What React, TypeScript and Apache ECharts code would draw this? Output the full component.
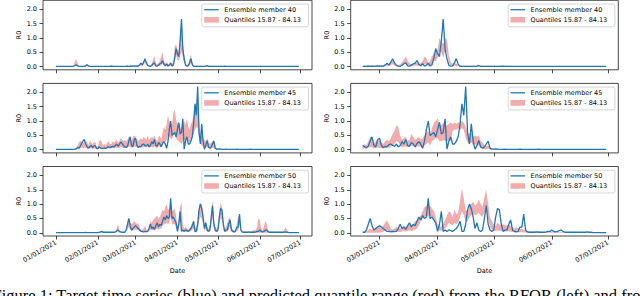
import { useEffect, useRef } from 'react';
import * as echarts from 'echarts';

// Day index 0 = 01/01/2021; one value per day up to 06/30/2021 (index 180)
const TARGET_40 = [
  0.01,0.01,0.01,0.01,0.01,0.01,0.01,0.01,0.01,0.01,
  0.01,0.01,0.01,0.02,0.04,0.06,0.03,0.01,0.01,0.01,
  0.01,0.01,0.03,0.07,0.03,0.01,0.01,0.01,0.01,0.01,
  0.01,0.01,0.01,0.01,0.01,0.01,0.01,0.01,0.01,0.01,
  0.01,0.02,0.01,0.01,0.01,0.01,0.01,0.01,0.01,0.01,
  0.01,0.01,0.01,0.02,0.01,0.02,0.01,0.02,0.03,0.02,
  0.03,0.02,0.06,0.12,0.06,0.16,0.27,0.13,0.05,0.02,
  0.01,0.04,0.10,0.13,0.03,0.02,0.05,0.10,0.12,0.21,
  0.08,0.03,0.10,0.02,0.05,0.12,0.02,0.06,0.30,0.63,
  0.45,0.35,0.90,1.66,0.60,0.28,0.05,0.02,0.03,0.13,
  0.28,0.08,0.01,0.01,0.01,0.01,0.01,0.01,0.01,0.01,
  0.01,0.02,0.04,0.01,0.01,0.01,0.01,0.01,0.01,0.01,
  0.01,0.01,0.01,0.01,0.01,0.02,0.01,0.01,0.01,0.01,
  0.01,0.01,0.01,0.01,0.01,0.01,0.01,0.01,0.01,0.01,
  0.01,0.01,0.01,0.01,0.01,0.01,0.01,0.01,0.01,0.01,
  0.01,0.01,0.01,0.01,0.01,0.01,0.01,0.01,0.01,0.01,
  0.01,0.01,0.01,0.01,0.01,0.01,0.01,0.01,0.01,0.01,
  0.01,0.01,0.01,0.01,0.01,0.01,0.01,0.01,0.01,0.01,
  0.01
];
const TARGET_45 = [
  0.01,0.01,0.01,0.01,0.01,0.01,0.01,0.01,0.01,0.01,
  0.01,0.01,0.01,0.01,0.01,0.03,0.08,0.05,0.12,0.22,
  0.30,0.36,0.20,0.12,0.06,0.10,0.15,0.08,0.12,0.15,
  0.05,0.04,0.10,0.06,0.04,0.05,0.06,0.05,0.08,0.10,
  0.08,0.10,0.12,0.10,0.15,0.20,0.12,0.18,0.27,0.22,
  0.15,0.10,0.08,0.12,0.30,0.45,0.15,0.10,0.35,0.40,
  0.15,0.08,0.12,0.10,0.18,0.20,0.15,0.12,0.20,0.10,
  0.15,0.28,0.20,0.36,0.15,0.12,0.25,0.20,0.10,0.22,
  0.28,0.20,0.05,0.30,0.70,1.00,0.50,0.55,0.60,0.45,
  0.70,0.95,0.55,0.60,1.08,0.02,0.30,0.45,0.20,0.20,
  0.30,0.45,0.90,1.60,1.20,2.20,0.60,0.20,0.90,0.30,
  0.02,0.15,0.32,0.10,0.05,0.10,0.20,0.30,0.05,0.02,
  0.02,0.03,0.02,0.01,0.01,0.01,0.02,0.01,0.01,0.01,
  0.01,0.01,0.01,0.01,0.02,0.01,0.01,0.01,0.01,0.01,
  0.01,0.01,0.01,0.01,0.02,0.01,0.01,0.01,0.01,0.01,
  0.01,0.01,0.01,0.01,0.01,0.01,0.01,0.01,0.01,0.01,
  0.01,0.01,0.01,0.01,0.01,0.01,0.01,0.01,0.01,0.01,
  0.01,0.01,0.01,0.01,0.01,0.01,0.01,0.01,0.01,0.01,
  0.01
];
const TARGET_50 = [
  0.01,0.01,0.01,0.01,0.01,0.01,0.01,0.01,0.01,0.01,
  0.01,0.01,0.01,0.01,0.01,0.01,0.01,0.01,0.01,0.01,
  0.01,0.01,0.02,0.01,0.01,0.01,0.01,0.01,0.01,0.01,
  0.01,0.01,0.02,0.03,0.05,0.02,0.02,0.02,0.02,0.02,
  0.02,0.02,0.02,0.02,0.03,0.06,0.10,0.04,0.03,0.02,
  0.02,0.02,0.10,0.30,0.50,0.25,0.10,0.15,0.20,0.25,
  0.20,0.15,0.10,0.05,0.05,0.03,0.05,0.04,0.05,0.15,
  0.30,0.15,0.20,0.12,0.25,0.35,0.20,0.30,0.25,0.40,
  0.55,0.45,0.60,0.50,0.55,1.20,0.50,0.55,0.45,0.35,
  0.05,0.30,0.75,0.05,0.10,0.05,0.10,0.08,0.05,0.10,
  0.15,0.25,0.40,0.05,0.05,0.30,0.80,1.00,0.85,0.55,
  0.15,0.35,0.10,0.05,0.10,0.50,0.95,0.30,0.10,0.05,
  0.10,0.55,0.85,0.80,0.30,0.05,0.10,0.10,0.30,0.45,
  0.10,0.05,0.03,0.05,0.20,0.20,0.65,0.10,0.03,0.02,
  0.02,0.02,0.02,0.03,0.02,0.02,0.02,0.02,0.03,0.05,
  0.05,0.10,0.05,0.03,0.05,0.08,0.10,0.05,0.02,0.02,
  0.02,0.02,0.02,0.02,0.02,0.02,0.02,0.02,0.02,0.02,
  0.03,0.02,0.02,0.01,0.01,0.01,0.01,0.01,0.01,0.01,
  0.01
];

// Left model (RFOR) quantile band, day 0..180
const RF_HI_40 = [
  0.02,0.02,0.02,0.02,0.02,0.02,0.02,0.02,0.02,0.02,
  0.02,0.02,0.02,0.04,0.15,0.28,0.10,0.03,0.02,0.02,
  0.02,0.02,0.05,0.09,0.04,0.02,0.02,0.02,0.02,0.02,
  0.02,0.02,0.02,0.02,0.02,0.02,0.02,0.02,0.02,0.02,
  0.03,0.05,0.03,0.02,0.02,0.02,0.02,0.02,0.02,0.02,
  0.02,0.02,0.02,0.03,0.02,0.03,0.06,0.04,0.03,0.03,
  0.04,0.05,0.10,0.15,0.10,0.20,0.33,0.18,0.08,0.05,
  0.04,0.10,0.25,0.36,0.10,0.08,0.12,0.20,0.35,0.50,
  0.20,0.10,0.15,0.08,0.10,0.18,0.08,0.20,0.70,0.78,
  0.60,0.50,1.00,1.20,0.85,0.40,0.12,0.06,0.08,0.25,
  0.42,0.15,0.04,0.03,0.03,0.03,0.03,0.03,0.03,0.03,
  0.03,0.03,0.05,0.03,0.03,0.03,0.03,0.03,0.03,0.03,
  0.02,0.02,0.02,0.02,0.02,0.02,0.02,0.02,0.02,0.02,
  0.02,0.02,0.02,0.02,0.02,0.02,0.02,0.02,0.02,0.02,
  0.02,0.02,0.02,0.02,0.02,0.02,0.02,0.02,0.02,0.02,
  0.02,0.02,0.02,0.02,0.02,0.02,0.02,0.02,0.02,0.02,
  0.02,0.02,0.02,0.02,0.02,0.02,0.02,0.02,0.02,0.02,
  0.02,0.02,0.02,0.02,0.02,0.02,0.02,0.02,0.02,0.02,
  0.02
];
const RF_LO_40 = [
  0,0,0,0,0,0,0,0,0,0,
  0,0,0,0,0.02,0.04,0.01,0,0,0,
  0,0,0,0.02,0,0,0,0,0,0,
  0,0,0,0,0,0,0,0,0,0,
  0,0,0,0,0,0,0,0,0,0,
  0,0,0,0,0,0,0,0,0,0,
  0,0,0.02,0.05,0.02,0.08,0.15,0.06,0.02,0,
  0,0.02,0.05,0.05,0.01,0,0.02,0.04,0.05,0.10,
  0.04,0.01,0.04,0,0.02,0.05,0,0.02,0.25,0.40,
  0.25,0.20,0.35,0.55,0.30,0.12,0.02,0,0.01,0.05,
  0.12,0.03,0,0,0,0,0,0,0,0,
  0,0,0,0,0,0,0,0,0,0,
  0,0,0,0,0,0,0,0,0,0,
  0,0,0,0,0,0,0,0,0,0,
  0,0,0,0,0,0,0,0,0,0,
  0,0,0,0,0,0,0,0,0,0,
  0,0,0,0,0,0,0,0,0,0,
  0,0,0,0,0,0,0,0,0,0,
  0
];
const RF_HI_45 = [
  0.02,0.02,0.02,0.02,0.02,0.02,0.02,0.02,0.02,0.02,
  0.02,0.02,0.02,0.02,0.03,0.05,0.15,0.25,0.30,0.30,
  0.20,0.30,0.25,0.30,0.15,0.30,0.28,0.20,0.25,0.30,
  0.12,0.10,0.30,0.35,0.25,0.15,0.20,0.15,0.25,0.30,
  0.20,0.20,0.30,0.25,0.30,0.35,0.25,0.30,0.40,0.35,
  0.30,0.35,0.30,0.35,0.45,0.40,0.30,0.45,0.50,0.45,
  0.35,0.30,0.35,0.40,0.35,0.45,0.40,0.35,0.50,0.35,
  0.40,0.45,0.40,0.50,0.35,0.30,0.45,0.50,0.35,0.60,
  0.80,0.70,0.90,1.20,1.00,0.90,0.85,1.30,1.40,1.05,
  0.90,0.95,0.80,0.70,0.90,1.00,0.85,1.10,0.80,0.70,
  0.90,1.00,1.20,1.50,1.65,1.55,1.00,0.60,0.50,0.40,
  0.35,0.30,0.40,0.30,0.20,0.25,0.30,0.35,0.15,0.06,
  0.03,0.02,0.02,0.02,0.02,0.02,0.02,0.02,0.02,0.02,
  0.02,0.02,0.02,0.02,0.03,0.02,0.02,0.02,0.02,0.02,
  0.02,0.02,0.02,0.02,0.02,0.02,0.02,0.02,0.02,0.02,
  0.02,0.02,0.02,0.02,0.02,0.02,0.02,0.02,0.02,0.02,
  0.02,0.02,0.02,0.02,0.02,0.02,0.02,0.02,0.02,0.02,
  0.02,0.02,0.02,0.02,0.02,0.02,0.02,0.02,0.02,0.02,
  0.02
];
const RF_LO_45 = [
  0,0,0,0,0,0,0,0,0,0,
  0,0,0,0,0,0.01,0.03,0.05,0.05,0.08,
  0.05,0.08,0.06,0.05,0.02,0.04,0.06,0.03,0.04,0.05,
  0.02,0.02,0.04,0.05,0.03,0.02,0.03,0.02,0.04,0.05,
  0.04,0.04,0.06,0.05,0.06,0.08,0.05,0.07,0.10,0.08,
  0.06,0.07,0.06,0.08,0.12,0.10,0.06,0.10,0.12,0.10,
  0.08,0.06,0.08,0.10,0.08,0.10,0.09,0.08,0.12,0.08,
  0.09,0.10,0.08,0.12,0.07,0.06,0.10,0.12,0.08,0.15,
  0.30,0.25,0.35,0.50,0.45,0.40,0.35,0.50,0.55,0.40,
  0.35,0.30,0.25,0.20,0.30,0.35,0.30,0.40,0.30,0.25,
  0.35,0.40,0.55,0.70,0.80,0.75,0.40,0.20,0.15,0.10,
  0.08,0.06,0.10,0.06,0.04,0.05,0.06,0.07,0.03,0.01,
  0,0,0,0,0,0,0,0,0,0,
  0,0,0,0,0,0,0,0,0,0,
  0,0,0,0,0,0,0,0,0,0,
  0,0,0,0,0,0,0,0,0,0,
  0,0,0,0,0,0,0,0,0,0,
  0,0,0,0,0,0,0,0,0,0,
  0
];
const RF_HI_50 = [
  0.02,0.02,0.02,0.02,0.02,0.02,0.02,0.02,0.02,0.02,
  0.02,0.02,0.02,0.02,0.02,0.02,0.02,0.02,0.02,0.02,
  0.02,0.02,0.03,0.02,0.02,0.02,0.02,0.02,0.02,0.02,
  0.02,0.02,0.03,0.05,0.08,0.04,0.03,0.03,0.03,0.03,
  0.03,0.03,0.03,0.03,0.05,0.15,0.30,0.10,0.05,0.04,
  0.04,0.04,0.15,0.35,0.40,0.35,0.30,0.35,0.40,0.35,
  0.30,0.35,0.20,0.12,0.10,0.15,0.25,0.12,0.10,0.25,
  0.40,0.35,0.45,0.50,0.55,0.60,0.50,0.55,0.70,0.80,
  0.75,0.90,1.00,0.80,0.85,1.00,0.75,0.80,0.85,0.60,
  0.20,0.50,0.90,1.10,0.30,0.15,0.20,0.15,0.12,0.15,
  0.25,0.35,0.45,0.20,0.15,0.40,0.95,1.05,1.00,0.70,
  0.30,0.45,0.20,0.15,0.25,0.70,1.15,0.50,0.20,0.15,
  0.25,0.70,1.05,0.90,0.45,0.15,0.20,0.35,0.50,0.55,
  0.25,0.10,0.10,0.08,0.30,0.60,0.50,0.15,0.06,0.05,
  0.05,0.05,0.05,0.05,0.05,0.05,0.08,0.10,0.08,0.20,
  0.50,0.45,0.15,0.10,0.20,0.40,0.35,0.10,0.04,0.04,
  0.04,0.04,0.04,0.04,0.04,0.04,0.04,0.04,0.04,0.10,
  0.20,0.10,0.03,0.03,0.03,0.03,0.03,0.03,0.03,0.03,
  0.03
];
const RF_LO_50 = [
  0,0,0,0,0,0,0,0,0,0,
  0,0,0,0,0,0,0,0,0,0,
  0,0,0,0,0,0,0,0,0,0,
  0,0,0,0,0,0,0,0,0,0,
  0,0,0,0,0,0.03,0.06,0.02,0.01,0,
  0,0,0.04,0.12,0.20,0.12,0.05,0.08,0.10,0.12,
  0.10,0.08,0.05,0.02,0.02,0.02,0.03,0.02,0.02,0.06,
  0.12,0.08,0.10,0.08,0.12,0.15,0.10,0.15,0.15,0.25,
  0.30,0.30,0.35,0.30,0.35,0.55,0.30,0.30,0.30,0.20,
  0.02,0.15,0.40,0.30,0.04,0.02,0.04,0.03,0.02,0.04,
  0.06,0.10,0.15,0.02,0.02,0.10,0.40,0.55,0.50,0.30,
  0.06,0.15,0.04,0.02,0.04,0.25,0.55,0.15,0.04,0.02,
  0.04,0.25,0.50,0.45,0.12,0.02,0.04,0.05,0.12,0.20,
  0.04,0.02,0.01,0.02,0.08,0.08,0.30,0.04,0.01,0,
  0,0,0,0,0,0,0,0,0,0,
  0,0,0,0,0,0,0,0,0,0,
  0,0,0,0,0,0,0,0,0,0,
  0,0,0,0,0,0,0,0,0,0,
  0
];

// Right model quantile band, day 50 (02/20/2021) .. 180
const OT_HI_40 = [
  0.03,0.04,0.03,0.04,0.03,0.03,0.04,0.03,0.03,0.04,
  0.03,0.04,0.06,0.10,0.08,0.14,0.20,0.12,0.06,0.05,
  0.08,0.15,0.25,0.35,0.20,0.12,0.08,0.10,0.15,0.12,
  0.10,0.12,0.20,0.35,0.30,0.12,0.20,0.35,0.50,0.45,
  0.60,1.00,0.85,0.80,1.00,0.95,0.40,0.15,0.10,0.12,
  0.10,0.06,0.03,0.03,0.03,0.03,0.03,0.03,0.03,0.03,
  0.03,0.03,0.03,0.03,0.03,0.03,0.03,0.03,0.03,0.03,
  0.03,0.03,0.03,0.03,0.03,0.03,0.03,0.03,0.03,0.03,
  0.02,0.02,0.02,0.02,0.02,0.02,0.02,0.02,0.02,0.02,
  0.02,0.02,0.02,0.02,0.02,0.02,0.02,0.02,0.02,0.02,
  0.02,0.02,0.02,0.02,0.02,0.02,0.02,0.02,0.02,0.02,
  0.02,0.02,0.02,0.02,0.02,0.02,0.02,0.02,0.02,0.02,
  0.02,0.02,0.02,0.02,0.02,0.02,0.02,0.02,0.02,0.02,
  0.02
];
const OT_LO_40 = [
  0,0,0,0,0,0,0,0,0,0,
  0,0,0.01,0.03,0.02,0.05,0.08,0.04,0.01,0,
  0.01,0.04,0.08,0.10,0.05,0.02,0.01,0.02,0.04,0.03,
  0.02,0.03,0.06,0.10,0.08,0.03,0.05,0.10,0.20,0.20,
  0.30,0.55,0.50,0.30,0.55,0.50,0.15,0.05,0.02,0.03,
  0.02,0.01,0,0,0,0,0,0,0,0,
  0,0,0,0,0,0,0,0,0,0,
  0,0,0,0,0,0,0,0,0,0,
  0,0,0,0,0,0,0,0,0,0,
  0,0,0,0,0,0,0,0,0,0,
  0,0,0,0,0,0,0,0,0,0,
  0,0,0,0,0,0,0,0,0,0,
  0,0,0,0,0,0,0,0,0,0,
  0
];
const OT_HI_45 = [
  0.15,0.20,0.15,0.30,0.45,0.40,0.20,0.30,0.35,0.30,
  0.25,0.20,0.30,0.35,0.30,0.40,0.55,0.65,0.85,0.80,
  0.50,0.35,0.40,0.45,0.30,0.35,0.55,0.45,0.35,0.40,
  0.45,0.35,0.40,0.50,0.60,0.65,0.50,0.75,0.95,1.00,
  1.10,0.90,0.85,0.95,0.80,0.85,0.90,0.95,0.90,0.95,
  0.90,0.95,0.95,1.00,0.95,0.80,0.60,0.55,0.60,0.45,
  0.50,0.45,0.50,0.30,0.25,0.15,0.12,0.15,0.10,0.05,
  0.03,0.03,0.02,0.02,0.02,0.02,0.02,0.02,0.02,0.02,
  0.02,0.02,0.02,0.02,0.02,0.02,0.02,0.02,0.02,0.02,
  0.02,0.02,0.02,0.02,0.02,0.02,0.02,0.02,0.02,0.02,
  0.02,0.02,0.02,0.02,0.02,0.02,0.02,0.02,0.02,0.02,
  0.02,0.02,0.02,0.02,0.02,0.02,0.02,0.02,0.02,0.02,
  0.02,0.02,0.02,0.02,0.02,0.02,0.02,0.02,0.02,0.02,
  0.02
];
const OT_LO_45 = [
  0.02,0.04,0.03,0.06,0.10,0.08,0.04,0.06,0.08,0.06,
  0.05,0.04,0.06,0.08,0.06,0.10,0.15,0.20,0.30,0.28,
  0.15,0.08,0.10,0.12,0.08,0.10,0.15,0.12,0.08,0.10,
  0.12,0.08,0.10,0.15,0.20,0.25,0.15,0.30,0.35,0.40,
  0.40,0.30,0.30,0.35,0.30,0.30,0.35,0.30,0.65,0.70,
  0.70,0.75,0.70,0.75,0.70,0.40,0.25,0.20,0.25,0.15,
  0.20,0.15,0.15,0.08,0.06,0.03,0.02,0.03,0.02,0.01,
  0,0,0,0,0,0,0,0,0,0,
  0,0,0,0,0,0,0,0,0,0,
  0,0,0,0,0,0,0,0,0,0,
  0,0,0,0,0,0,0,0,0,0,
  0,0,0,0,0,0,0,0,0,0,
  0,0,0,0,0,0,0,0,0,0,
  0
];
const OT_HI_50 = [
  0.03,0.04,0.05,0.10,0.15,0.12,0.15,0.18,0.20,0.22,
  0.18,0.25,0.35,0.45,0.30,0.15,0.12,0.15,0.20,0.18,
  0.15,0.20,0.25,0.20,0.25,0.30,0.25,0.30,0.40,0.45,
  0.50,0.60,0.75,0.90,0.95,0.90,0.95,0.85,0.75,0.55,
  0.30,0.25,0.20,0.30,0.45,0.60,0.75,0.70,0.55,0.80,
  0.65,0.70,1.10,1.55,1.20,0.80,0.70,0.95,1.00,1.10,
  0.95,1.00,1.15,1.00,0.90,1.25,1.50,1.00,0.55,0.40,
  0.30,0.25,0.35,0.30,0.25,0.30,0.28,0.25,0.30,0.22,
  0.20,0.15,0.20,0.15,0.12,0.15,0.10,0.08,0.06,0.05,
  0.05,0.05,0.05,0.05,0.06,0.04,0.03,0.03,0.03,0.03,
  0.06,0.04,0.03,0.03,0.03,0.03,0.03,0.03,0.03,0.03,
  0.03,0.03,0.03,0.03,0.03,0.03,0.03,0.03,0.03,0.03,
  0.03,0.03,0.03,0.03,0.03,0.03,0.03,0.03,0.03,0.03,
  0.03
];
const OT_LO_50 = [
  0,0,0,0,0,0,0,0,0,0,
  0.02,0.04,0.08,0.10,0.06,0.03,0.02,0.03,0.05,0.04,
  0.03,0.05,0.06,0.05,0.06,0.08,0.06,0.08,0.12,0.15,
  0.25,0.40,0.50,0.55,0.60,0.55,0.60,0.55,0.45,0.25,
  0.10,0.08,0.06,0.10,0.15,0.25,0.35,0.30,0.25,0.35,
  0.30,0.35,0.55,0.75,0.60,0.40,0.40,0.55,0.60,0.65,
  0.60,0.65,0.70,0.60,0.55,0.70,0.80,0.50,0.20,0.12,
  0.08,0.06,0.08,0.07,0.05,0.06,0.05,0.05,0.06,0.04,
  0.03,0.02,0.03,0.02,0.02,0.02,0.01,0.01,0,0,
  0,0,0,0,0,0,0,0,0,0,
  0,0,0,0,0,0,0,0,0,0,
  0,0,0,0,0,0,0,0,0,0,
  0,0,0,0,0,0,0,0,0,0,
  0
];

const MEMBERS = [40, 45, 50];
const LEFT_START_DAY = 0;
const RIGHT_START_DAY = 50;
const LEFT_TICK_DAYS = [0, 31, 59, 90, 120, 151, 181];
const LEFT_TICK_LABELS = ['01/01/2021', '02/01/2021', '03/01/2021', '04/01/2021', '05/01/2021', '06/01/2021', '07/01/2021'];
const RIGHT_TICK_DAYS = [59, 90, 120, 151, 181];
const RIGHT_TICK_LABELS = ['03/01/2021', '04/01/2021', '05/01/2021', '06/01/2021', '07/01/2021'];
const Y_TICKS = [0, 0.5, 1.0, 1.5, 2.0];
const BAND_NAME = 'Quantiles 15.87 - 84.13';
const CAPTION = 'Figure 1: Target time series (blue) and predicted quantile range (red) from the RFOR (left) and from';

const ROWS = [
  { target: TARGET_40, rfLo: RF_LO_40, rfHi: RF_HI_40, otLo: OT_LO_40, otHi: OT_HI_40 },
  { target: TARGET_45, rfLo: RF_LO_45, rfHi: RF_HI_45, otLo: OT_LO_45, otHi: OT_HI_45 },
  { target: TARGET_50, rfLo: RF_LO_50, rfHi: RF_HI_50, otLo: OT_LO_50, otHi: OT_HI_50 },
];

const FONT = 'DejaVu Sans';
const BLUE = '#1f77b4';
const BAND = 'rgba(222,60,60,0.42)';
const AXIS_COLOR = '#1a1a1a';
const FS = 6.5;

const COLS = [
  { left: 43, right: 312, xmin: -9.6, xmax: 189.7, ticks: LEFT_TICK_DAYS, labels: LEFT_TICK_LABELS, start: LEFT_START_DAY },
  { left: 350.7, right: 618.3, xmin: 43.6, xmax: 186.5, ticks: RIGHT_TICK_DAYS, labels: RIGHT_TICK_LABELS, start: RIGHT_START_DAY },
];
const ROW_TOPS = [0.3, 83.4, 166.5];
const ROW_H = 69.5;

export default function App() {
  const ref = useRef<HTMLDivElement>(null);
  useEffect(() => {
    const chart = echarts.init(ref.current!, null, { renderer: 'svg', width: 640, height: 296 });
    const grids: any[] = [];
    const xAxes: any[] = [];
    const yAxes: any[] = [];
    const series: any[] = [];
    const graphics: any[] = [];

    ROWS.forEach((row, r) => {
      COLS.forEach((col, c) => {
        const i = r * 2 + c;
        const top = ROW_TOPS[r];
        grids.push({
          left: col.left, top, width: col.right - col.left, height: ROW_H,
          show: true, borderColor: AXIS_COLOR, borderWidth: 0.8, backgroundColor: 'transparent',
        });
        const isBottom = r === ROWS.length - 1;
        xAxes.push({
          gridIndex: i, type: 'value', min: col.xmin, max: col.xmax,
          axisLine: { show: false, onZero: false }, splitLine: { show: false }, axisPointer: { show: false },
          axisTick: { show: true, length: 3.5, lineStyle: { color: AXIS_COLOR, width: 0.8 }, customValues: col.ticks },
          axisLabel: {
            show: isBottom, customValues: col.ticks, rotate: 30, margin: 6,
            fontSize: FS, fontFamily: FONT, color: '#000',
            formatter: (v: number) => col.labels[col.ticks.indexOf(Math.round(v))] ?? '',
          },
          name: isBottom ? 'Date' : undefined, nameLocation: 'middle', nameGap: 31,
          nameTextStyle: { fontSize: FS, fontFamily: FONT, color: '#000' },
        });
        yAxes.push({
          gridIndex: i, type: 'value', min: -0.11, max: 2.31,
          axisLine: { show: false, onZero: false }, splitLine: { show: false }, axisPointer: { show: false },
          axisTick: { show: true, length: 3.5, lineStyle: { color: AXIS_COLOR, width: 0.8 }, customValues: Y_TICKS },
          axisLabel: {
            customValues: Y_TICKS, margin: 6, fontSize: FS, fontFamily: FONT, color: '#000',
            formatter: (v: number) => v.toFixed(1),
          },
          name: 'R0', nameLocation: 'middle', nameGap: 19, nameRotate: 90,
          nameTextStyle: { fontSize: FS, fontFamily: FONT, color: '#000' },
        });

        const start = col.start;
        const tgt = row.target.slice(start);
        const lo = c === 0 ? row.rfLo : row.otLo;
        const hi = c === 0 ? row.rfHi : row.otHi;
        series.push({
          type: 'custom', name: BAND_NAME, xAxisIndex: i, yAxisIndex: i,
          data: lo.map((v, k) => [start + k, v, hi[k]]),
          encode: { x: 0, y: [1, 2] },
          z: 2, silent: true,
          renderItem: (params: any, api: any) => {
            if (params.dataIndex !== 0) return null;
            const pts: number[][] = [];
            for (let k = 0; k < hi.length; k++) pts.push(api.coord([start + k, hi[k]]));
            for (let k = lo.length - 1; k >= 0; k--) pts.push(api.coord([start + k, lo[k]]));
            return { type: 'polygon', shape: { points: pts }, style: { fill: BAND, stroke: null } };
          },
        });
        series.push({
          type: 'line', name: `Ensemble member ${MEMBERS[r]}`, xAxisIndex: i, yAxisIndex: i,
          data: tgt.map((v, k) => [start + k, v]),
          symbol: 'none', lineStyle: { color: BLUE, width: 1.3 }, itemStyle: { color: BLUE },
          z: 3, silent: true,
        });

        // legend (upper right, inside axes)
        const bw = 106.8;
        const bx = col.right - 3.4 - bw;
        const by = top + 3.7;
        graphics.push({
          type: 'rect', shape: { x: bx, y: by, width: bw, height: 22.8, r: 2 },
          style: { fill: 'rgba(255,255,255,0.8)', stroke: '#cccccc', lineWidth: 0.8 }, z: 10,
        });
        graphics.push({
          type: 'line', shape: { x1: bx + 2.4, y1: by + 5.7, x2: bx + 17, y2: by + 5.7 },
          style: { stroke: BLUE, lineWidth: 1.3 }, z: 11,
        });
        graphics.push({
          type: 'rect', shape: { x: bx + 2.4, y: by + 13, width: 14.6, height: 5.6 },
          style: { fill: BAND }, z: 11,
        });
        graphics.push({
          type: 'text', x: bx + 22.5, y: by + 5.8, z: 11,
          style: { text: `Ensemble member ${MEMBERS[r]}`, fill: '#000', fontSize: FS, fontFamily: FONT, verticalAlign: 'middle', textVerticalAlign: 'middle' },
        });
        graphics.push({
          type: 'text', x: bx + 22.5, y: by + 16.2, z: 11,
          style: { text: BAND_NAME, fill: '#000', fontSize: FS, fontFamily: FONT, verticalAlign: 'middle', textVerticalAlign: 'middle' },
        });
      });
    });

    graphics.push({
      type: 'text', x: -7.5, y: 295.5, z: 11,
      style: { text: CAPTION, fill: '#000', fontSize: 16.5, fontFamily: 'Liberation Serif', verticalAlign: 'middle', textVerticalAlign: 'middle' },
    });

    chart.setOption({
      animation: false,
      backgroundColor: '#ffffff',
      grid: grids,
      xAxis: xAxes,
      yAxis: yAxes,
      series,
      graphic: graphics,
    });
    return () => chart.dispose();
  }, []);
  return <div ref={ref} style={{ position: 'fixed', left: 0, top: 0, width: 640, height: 296, background: '#fff' }} />;
}
